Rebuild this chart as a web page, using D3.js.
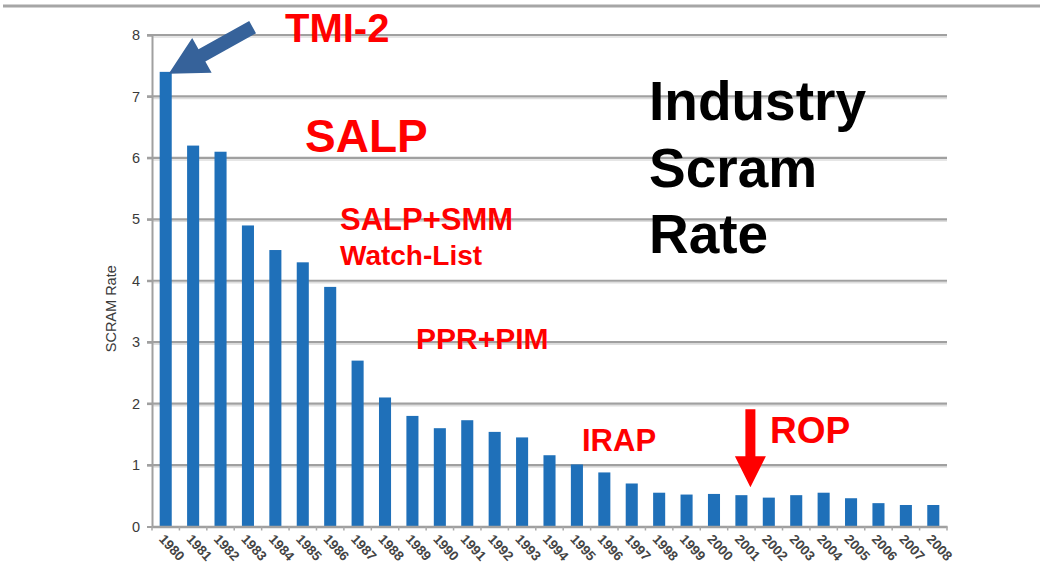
<!DOCTYPE html>
<html>
<head>
<meta charset="utf-8">
<script src="https://cdn.jsdelivr.net/npm/d3@7"></script>
<style>
  html, body { margin: 0; padding: 0; background: #fff; }
  svg { display: block; font-family: "Liberation Sans", Arial, sans-serif; }
  .note { fill: #ff0000; font-weight: bold; }
  .title { fill: #000; font-weight: bold; font-size: 55px; }
</style>
</head>
<body>
<div id="chart"></div>
<script>
// data
const years = d3.range(1980, 2009).map(String);
const scramRate = [7.4, 6.2, 6.1, 4.9, 4.5, 4.3, 3.9, 2.7, 2.1, 1.8, 1.6, 1.73, 1.54, 1.45, 1.16,
                   1.01, 0.88, 0.7, 0.55, 0.52, 0.53, 0.51, 0.47, 0.51, 0.55, 0.46, 0.38, 0.35, 0.35];
const yTicks = [0, 1, 2, 3, 4, 5, 6, 7, 8];

const W = 1040, H = 586;
const margin = {top: 35, right: 93, bottom: 59.5, left: 152};

const svg = d3.select("#chart").append("svg")
    .attr("width", W)
    .attr("height", H);

// slide border at the very top
svg.append("line")
    .attr("x1", 3).attr("x2", W)
    .attr("y1", 6).attr("y2", 6)
    .attr("stroke", "#a6a6a6")
    .attr("stroke-width", 3);

const x = d3.scaleBand()
    .domain(years)
    .range([margin.left, W - margin.right])
    .paddingInner(0.56)
    .paddingOuter(0.28);

const y = d3.scaleLinear()
    .domain([0, 8])
    .range([H - margin.bottom, margin.top]);

// gridlines (with the soft shadow underneath)
const grid = svg.append("g");
grid.selectAll("line.shadow")
    .data(yTicks.filter(d => d > 0))
    .enter().append("line")
    .attr("class", "shadow")
    .attr("x1", margin.left).attr("x2", W - margin.right)
    .attr("y1", d => y(d) + 2).attr("y2", d => y(d) + 2)
    .attr("stroke", "#dedede")
    .attr("stroke-width", 1.5);
grid.selectAll("line.major")
    .data(yTicks.filter(d => d > 0))
    .enter().append("line")
    .attr("class", "major")
    .attr("x1", margin.left - 5).attr("x2", W - margin.right)
    .attr("y1", d => y(d)).attr("y2", d => y(d))
    .attr("stroke", "#a0a0a0")
    .attr("stroke-width", 2.2);

// y axis
const yAxis = svg.append("g")
    .attr("transform", `translate(${margin.left},0)`)
    .call(d3.axisLeft(y).tickValues(yTicks).tickSize(5).tickPadding(7));
yAxis.select(".domain").attr("stroke", "#a0a0a0").attr("stroke-width", 2);
yAxis.selectAll(".tick line").attr("stroke", "#a0a0a0").attr("stroke-width", 2);
yAxis.selectAll(".tick text")
    .attr("fill", "#3a3a3a")
    .style("font-size", "14.5px")
    .style("font-family", "Liberation Sans, Arial, sans-serif");

svg.append("text")
    .attr("transform", `translate(116,${(y(0) + y(8)) / 2 + 28}) rotate(-90)`)
    .attr("text-anchor", "middle")
    .attr("fill", "#3a3a3a")
    .style("font-size", "14.5px")
    .text("SCRAM Rate");

// bars
svg.append("g")
    .selectAll("rect")
    .data(scramRate)
    .enter().append("rect")
    .attr("x", (d, i) => x(years[i]))
    .attr("y", d => y(d))
    .attr("width", x.bandwidth())
    .attr("height", d => y(0) - y(d))
    .attr("fill", "#1f70b9");

// x axis
const xAxis = svg.append("g")
    .attr("transform", `translate(0,${y(0)})`)
    .call(d3.axisBottom(x).tickSize(0).tickPadding(0));
xAxis.select(".domain").attr("stroke", "#a0a0a0").attr("stroke-width", 2.5);
xAxis.selectAll(".tick text")
    .attr("text-anchor", "start")
    .attr("fill", "#444")
    .attr("transform", "translate(-4,10) rotate(47)")
    .attr("dy", "0.35em")
    .style("font-size", "13.5px")
    .style("font-weight", "bold")
    .style("font-family", "Liberation Sans, Arial, sans-serif");

// little ticks between the bars
const step = x.step();
const firstEdge = margin.left + step * x.paddingOuter() - step * x.paddingInner() / 2;
svg.append("g")
    .selectAll("line")
    .data(d3.range(years.length + 1))
    .enter().append("line")
    .attr("x1", i => firstEdge + i * step)
    .attr("x2", i => firstEdge + i * step)
    .attr("y1", y(0)).attr("y2", y(0) + 4)
    .attr("stroke", "#a8a8a8")
    .attr("stroke-width", 1.5);

// TMI-2 arrow, pointing at the 1980 bar
const tip = [x("1980") + x.bandwidth() / 2 + 3, y(scramRate[0]) + 2];
const dir = [0.874, -0.486];
const nrm = [-dir[1], dir[0]];
const headLen = 38, headHalf = 20, shaftHalf = 7, totalLen = 96;
const pt = (a, b) => [tip[0] + dir[0] * a + nrm[0] * b, tip[1] + dir[1] * a + nrm[1] * b];
svg.append("path")
    .attr("d", d3.line()([
        pt(0, 0), pt(headLen, headHalf), pt(headLen, shaftHalf), pt(totalLen, shaftHalf),
        pt(totalLen, -shaftHalf), pt(headLen, -shaftHalf), pt(headLen, -headHalf)
    ]) + "Z")
    .attr("fill", "#36629a");

// ROP arrow, pointing down at 2001
const ropX = x("2001") + x.bandwidth() / 2 + 9;
const ropTip = y(scramRate[21]) - 8;
svg.append("path")
    .attr("d", d3.line()([
        [ropX - 5, ropTip - 78], [ropX + 5, ropTip - 78], [ropX + 5, ropTip - 31],
        [ropX + 15.5, ropTip - 31], [ropX, ropTip], [ropX - 15.5, ropTip - 31], [ropX - 5, ropTip - 31]
    ]) + "Z")
    .attr("fill", "#ff0000");

// annotations
const notes = [
    {text: "TMI-2", x: 285, y: 42, size: 40},
    {text: "SALP", x: 305, y: 152, size: 46},
    {text: "SALP+SMM", x: 340, y: 230, size: 31},
    {text: "Watch-List", x: 340, y: 265, size: 28},
    {text: "PPR+PIM", x: 416, y: 349, size: 30},
    {text: "IRAP", x: 582, y: 451, size: 31},
    {text: "ROP", x: 770, y: 443, size: 37}
];
svg.append("g")
    .selectAll("text")
    .data(notes)
    .enter().append("text")
    .attr("class", "note")
    .attr("x", d => d.x)
    .attr("y", d => d.y)
    .style("font-size", d => d.size + "px")
    .text(d => d.text);

const titleLines = ["Industry", "Scram", "Rate"];
svg.append("g")
    .selectAll("text")
    .data(titleLines)
    .enter().append("text")
    .attr("class", "title")
    .attr("x", 649)
    .attr("y", (d, i) => 120 + i * 66.5)
    .text(d => d);
</script>
</body>
</html>
